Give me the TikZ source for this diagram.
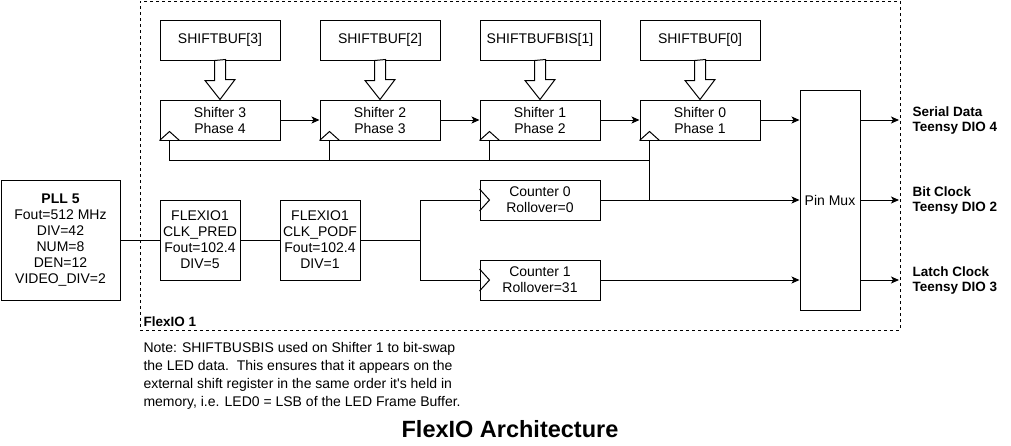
\documentclass[tikz,border=0pt]{standalone}
\usepackage{fontspec}
\setmainfont{Liberation Sans}
\usetikzlibrary{arrows.meta,calc}
\begin{document}
\begin{tikzpicture}[x=1pt,y=-1pt,line width=1pt,
  box/.style={draw,fill=white,inner sep=0pt,align=center,font=\fontsize{14}{16}\selectfont},
  buf/.style={box,minimum width=120pt,minimum height=40pt},
  arr/.style={-{Stealth[length=8pt,width=7pt,inset=2pt]}},
  hollow/.style={draw,fill=white,line join=miter},
  lbl/.style={anchor=west,align=left,inner sep=0pt,font=\fontsize{13.5}{14.5}\selectfont\bfseries},
  container/.style={draw,dash pattern=on 3pt off 3pt,inner sep=0pt,minimum width=760pt,minimum height=329pt}]
\useasboundingbox (0,0) rectangle (1011,445);
% FlexIO container
\node[container] (flexio) at (520,165.5) {};
% shift buffers
\node[buf] (b3) at (220,40) {SHIFTBUF[3]};
\node[buf] (b2) at (380,40) {SHIFTBUF[2]};
\node[buf] (b1) at (540,40) {SHIFTBUFBIS[1]};
\node[buf] (b0) at (700,40) {SHIFTBUF[0]};
% shifters
\node[buf] (s3) at (220,120) {Shifter 3\\Phase 4};
\node[buf] (s2) at (380,120) {Shifter 2\\Phase 3};
\node[buf] (s1) at (540,120) {Shifter 1\\Phase 2};
\node[buf] (s0) at (700,120) {Shifter 0\\Phase 1};
% hollow arrows
\foreach \b/\s in {b3/s3,b2/s2,b1/s1,b0/s0}
  \draw[hollow] ($(\b.south)+(-5.5,0)$) -- ++(0,20) -- ++(-9.5,0) -- (\s.north)
     -- ++(15,-20) -- ++(-9.5,0) -- ++(0,-20) -- cycle;
% clock triangles on shifters
\foreach \s in {s3,s2,s1,s0}
  \draw[line join=miter] (\s.south west) -- ++(10,-9) -- ++(10,9);
% pin mux
\node[box,minimum width=60pt,minimum height=220pt] (pm) at (830,200) {Pin Mux};
% counters
\node[buf] (c0) at (540,200) {Counter 0\\Rollover=0};
\node[buf] (c1) at (540,280) {Counter 1\\Rollover=31};
\foreach \c in {c0,c1}
  \draw ($(\c.west)+(0,-11)$) -- ++(10,11) -- ++(-10,11);
% clock chain
\node[box,minimum width=119pt,minimum height=120pt] (pll) at (60.5,240)
  {\textbf{PLL 5}\\Fout=512 MHz\\DIV=42\\NUM=8\\DEN=12\\VIDEO\_DIV=2};
\node[box,minimum width=80pt,minimum height=80pt] (pred) at (200,240)
  {FLEXIO1\\CLK\_PRED\\Fout=102.4\\DIV=5};
\node[box,minimum width=80pt,minimum height=80pt] (podf) at (320,240)
  {FLEXIO1\\CLK\_PODF\\Fout=102.4\\DIV=1};
\coordinate (br) at (420,240);
\draw (pll.east) -- (pred.west);
\draw (pred.east) -- (podf.west);
\draw (podf.east) -- (br);
\draw (br) |- (c0.west);
\draw (br) |- (c1.west);
% shifter data chain
\draw[arr] (s3.east) -- (s2.west);
\draw[arr] (s2.east) -- (s1.west);
\draw[arr] (s1.east) -- (s0.west);
\draw[arr] (s0.east) -- (pm.west |- s0.east);
\draw[arr] (c0.east) -- (pm.west |- c0.east);
\draw[arr] (c1.east) -- (pm.west |- c1.east);
% shifter clock feedback
\coordinate (k3) at ($(s3.south west)+(10,0)$);
\coordinate (k2) at ($(s2.south west)+(10,0)$);
\coordinate (k1) at ($(s1.south west)+(10,0)$);
\coordinate (k0) at ($(s0.south west)+(10,0)$);
\foreach \k in {k3,k2,k1} \draw (\k) -- ++(0,20);
\draw ($(k3)+(0,20)$) -- ($(k0)+(0,20)$);
\draw (k0) -- (k0 |- c0.east);
% outputs
\coordinate (o1) at (899,120);
\coordinate (o2) at (899,200);
\coordinate (o3) at (899,280);
\draw[arr] (pm.east |- o1) -- (o1);
\draw[arr] (pm.east |- o2) -- (o2);
\draw[arr] (pm.east |- o3) -- (o3);
\node[lbl] (l1) at (912,120.5) {Serial Data\\Teensy DIO 4};
\node[lbl] (l2) at (912,200.5) {Bit Clock\\Teensy DIO 2};
\node[lbl] (l3) at (912,280.5) {Latch Clock\\Teensy DIO 3};
% labels
\node[anchor=west,inner sep=0pt,font=\fontsize{13.5}{14.5}\selectfont\bfseries] (fl) at (143,321.8) {FlexIO 1};
\node[anchor=north west,align=left,inner sep=0pt,font=\fontsize{14}{18}\selectfont] (note) at (143,341.5)
  {Note: SHIFTBUSBIS used on Shifter 1 to bit-swap\\the LED data.\ \ This ensures that it appears on the\\external shift register in the same order it\textquotesingle s held in\\memory, i.e. LED0 = LSB of the LED Frame Buffer.};
\node[inner sep=0pt,font=\fontsize{23.5}{28}\selectfont\bfseries] (title) at (510,429.5) {FlexIO Architecture};
\end{tikzpicture}
\end{document}
